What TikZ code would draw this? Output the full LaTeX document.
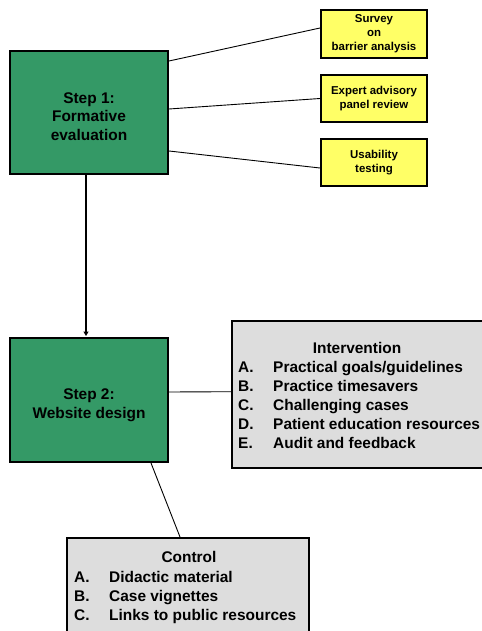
\documentclass[tikz,border=0pt]{standalone}
\usepackage{fontspec}
\setmainfont{Liberation Sans}
\usetikzlibrary{calc,arrows.meta}
\definecolor{stepgreen}{RGB}{52,153,102}
\definecolor{noteyellow}{RGB}{255,255,102}
\definecolor{listgray}{RGB}{221,221,221}
\tikzset{
  stepbox/.style={draw=black, line width=2bp, fill=stepgreen, align=center, inner sep=0pt,
    font=\fontsize{15.5}{18.5}\selectfont\bfseries},
  notebox/.style={draw=black, line width=2bp, fill=noteyellow, align=center, inner sep=0pt,
    minimum width=106bp, font=\fontsize{11.5}{14}\selectfont\bfseries},
  listbox/.style={draw=black, line width=2bp, fill=listgray, inner sep=0pt},
  listtext/.style={anchor=base west, inner sep=0pt, font=\fontsize{15.5}{18}\selectfont\bfseries},
  listhead/.style={anchor=base, inner sep=0pt, font=\fontsize{15.5}{18}\selectfont\bfseries},
  thinline/.style={draw=black, line width=0.9bp},
}
\begin{document}
\begin{tikzpicture}[x=1bp,y=-1bp]
\useasboundingbox (0,0) rectangle (482,631);
\begin{scope}
\clip (0,0) rectangle (482,631);
% step boxes
\node[stepbox, minimum width=158bp, minimum height=123bp] (s1) at (89,112.5) {\strut\\[-13pt]Step 1:\\Formative\\evaluation};
\node[stepbox, minimum width=158bp, minimum height=124bp, font=\fontsize{15.5}{19.5}\selectfont\bfseries] (s2) at (89,400) {\rule{0pt}{3pt}\\[-1pt]Step 2:\\Website design};
% yellow boxes
\node[notebox, minimum height=48bp] (y1) at (374,34) {Survey\\on\\barrier analysis};
\node[notebox, minimum height=47bp] (y2) at (374,98.5) {Expert advisory\\panel review};
\node[notebox, minimum height=47bp] (y3) at (374,162.5) {Usability\\testing};
% list boxes
\node[listbox, minimum width=258bp, minimum height=147bp] (iv) at (361,394.5) {};
\node[listbox, minimum width=242bp, minimum height=112bp] (ct) at (188,594) {};
% intervention text
\node[listhead] (ih) at (357,353.5) {Intervention};
\node[listtext] (ia) at (238,372) {A.};
\node[listtext] (ib) at (238,391.5) {B.};
\node[listtext] (ic) at (238,410.5) {C.};
\node[listtext] (id) at (238,429.5) {D.};
\node[listtext] (ie) at (238,448) {E.};
\node[listtext] (iat) at (273,372) {Practical goals/guidelines};
\node[listtext] (ibt) at (273,391.5) {Practice timesavers};
\node[listtext] (ict) at (273,410.5) {Challenging cases};
\node[listtext] (idt) at (273,429.5) {Patient education resources};
\node[listtext] (iet) at (273,448) {Audit and feedback};
% control text
\node[listhead] (ch) at (189,562.5) {Control};
\node[listtext] (ca) at (74,582) {A.};
\node[listtext] (cb) at (74,601) {B.};
\node[listtext] (cc) at (74,620) {C.};
\node[listtext] (cat) at (109,582) {Didactic material};
\node[listtext] (cbt) at (109,601) {Case vignettes};
\node[listtext] (cct) at (109,620) {Links to public resources};
% connectors
\draw[thinline] ($(s1.north east)+(0,11)$) -- ($(y1.west)+(0,-6)$);
\draw[thinline] ($(s1.east)+(0,-3.5)$) -- (y2.west);
\draw[thinline] ($(s1.east)+(0,38.5)$) -- ($(y3.west)+(0,5.5)$);
\draw[thinline] ($(s2.east)+(0,-8)$) -- ($(iv.west)+(0,-2.8)$);
\draw[thinline] ($(s2.south)+(62,0)$) -- ($(ct.north)+(-8,0)$);
\draw[line width=2bp, -{Triangle[length=4.5bp,width=5bp]}] ($(s1.south)+(-3,0)$) -- ($(s2.north)+(-3,-1)$);
\end{scope}
\end{tikzpicture}
\end{document}
